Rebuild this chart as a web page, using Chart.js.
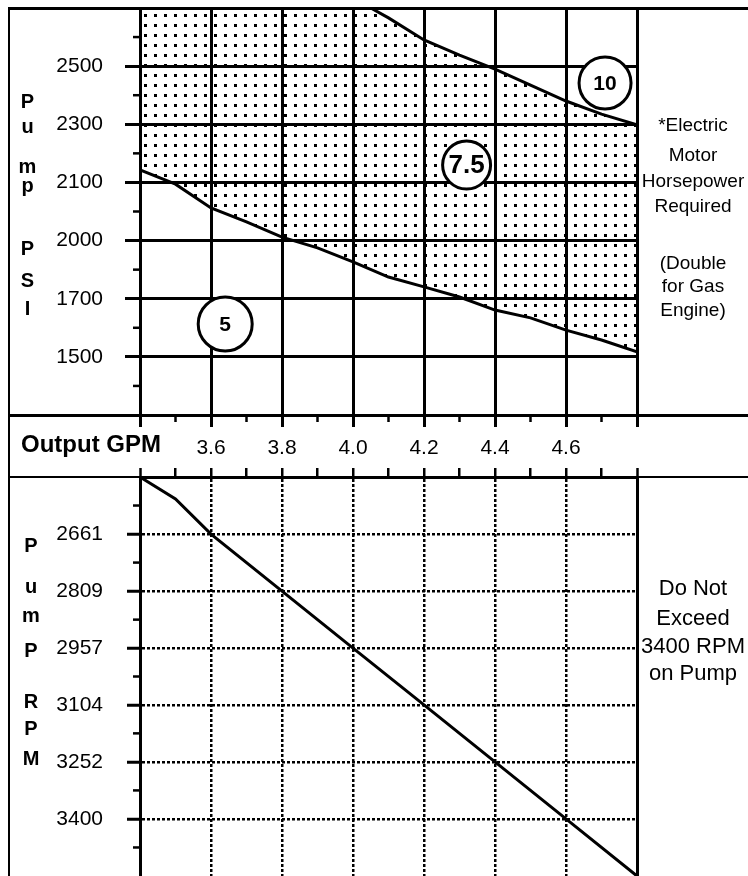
<!DOCTYPE html>
<html><head><meta charset="utf-8">
<script src="https://cdn.jsdelivr.net/npm/chart.js@4.4.0/dist/chart.umd.min.js"></script>
<style>
html,body{margin:0;padding:0;background:#fff;overflow:hidden;}
#wrap{position:relative;width:748px;height:876px;background:#fff;font-family:'Liberation Sans',Arial,Helvetica,sans-serif;color:#000;overflow:hidden;}
canvas{position:absolute;left:0;}
.ln{position:absolute;background:#000;}
.t{position:absolute;width:200px;text-align:center;line-height:1;white-space:nowrap;}
</style></head><body><div id="wrap">
<div class="ln" style="left:8px;top:7px;width:2px;height:869px"></div>
<div class="ln" style="left:8px;top:7px;width:740px;height:3px"></div>
<div class="ln" style="left:8px;top:414px;width:740px;height:3px"></div>
<div class="ln" style="left:8px;top:476px;width:740px;height:2px"></div>
<canvas id="topChart" width="748" height="432" style="top:0"></canvas>
<canvas id="botChart" width="748" height="456" style="top:420px"></canvas>
</div>
<script>
// ---------- data ----------
// Upper panel: pump pressure (PSI) bands of motor horsepower
const gpmLower = [3.4, 3.5, 3.6, 3.7, 3.8, 3.9, 4.0, 4.1, 4.2, 4.3, 4.4, 4.5, 4.6, 4.7, 4.8];
const psiLower = [2143, 2097, 2056, 2032, 2006, 1962, 1890, 1812, 1761, 1709, 1661, 1634, 1592, 1558, 1517];
const gpmUpper = [3.4, 4.05, 4.1, 4.2, 4.3, 4.4, 4.5, 4.6, 4.7, 4.8];
const psiUpper = [2700, 2700, 2666, 2590, 2538, 2490, 2435, 2380, 2335, 2298];
const psiTickLabels = ['1500', '1700', '2000', '2100', '2300', '2500'];
const hpNames = ['5', '7.5', '10'];
const hpGpm = [3.64, 4.32, 4.71];
const hpPsi = [1613, 2160, 2442];
// Shared output GPM axis
const gpmMin = 3.4, gpmMax = 4.8;
const gpmTickLabels = ['3.6', '3.8', '4.0', '4.2', '4.4', '4.6'];
// Lower panel: pump RPM
const rpmTickLabels = ['2661', '2809', '2957', '3104', '3252', '3400'];
const rpmAxisMin = 2513, rpmAxisMax = 3548;
const gpmRpm = [3.4, 3.5, 3.6, 3.8, 4.0, 4.2, 4.4, 4.6, 4.8];
const rpm = [2513, 2570, 2661, 2809, 2957, 3104, 3252, 3400, 3548];
// Texts
const psiTitle = ['P', 'u', 'm', 'p', 'P', 'S', 'I'];
const rpmTitle = ['P', 'u', 'm', 'P', 'R', 'P', 'M'];
const noteTop = ['*Electric', 'Motor', 'Horsepower', 'Required', '(Double', 'for Gas', 'Engine)'];
const noteBottom = ['Do Not', 'Exceed', '3400 RPM', 'on Pump'];

// ---------- helpers ----------
const FONT = "'Liberation Sans', Arial, Helvetica, sans-serif";
Chart.defaults.font.family = FONT;
Chart.defaults.color = '#000';
const psiTickValues = psiTickLabels.map(Number);
function psiPos(v) { // evenly spaced PSI gridlines at positions 1..6
  const t = psiTickValues, n = t.length;
  if (v <= t[0]) return 1 - (t[0] - v) / (t[1] - t[0]);
  if (v >= t[n - 1]) return n + (v - t[n - 1]) / (t[n - 1] - t[n - 2]);
  for (let i = 0; i < n - 1; i++) if (v <= t[i + 1]) return 1 + i + (v - t[i]) / (t[i + 1] - t[i]);
}
function stepTicks(min, max, step) {
  const out = []; const n = Math.round((max - min) / step);
  for (let i = 0; i <= n; i++) out.push({ value: Math.round((min + i * step) * 1000) / 1000 });
  return out;
}
function fixSize(prop, size) {
  return s => { s[prop] = size; s.paddingTop = 0; s.paddingBottom = 0; s.paddingLeft = 0; s.paddingRight = 0; };
}
const near = (a, b) => Math.abs(a - b) < 1e-6;
const tickVal = c => (c.tick ? c.tick.value : null);
const isEdge = c => { const v = tickVal(c); return v !== null && (near(v, gpmMin) || near(v, gpmMax)); };
const isMajorGpm = c => { const v = tickVal(c); return v !== null && Math.round(v * 10) % 2 === 0; };

function minorTicks(list) {
  return { id: 'minorTicks', afterDraw(chart) {
    const ctx = chart.ctx; ctx.save(); ctx.strokeStyle = '#000'; ctx.lineWidth = 2.5;
    list.forEach(({ axis, len }) => {
      const s = chart.scales[axis]; const vals = s.ticks.map(t => t.value);
      const lo = Math.min(s.min, s.max), hi = Math.max(s.min, s.max);
      const mids = [];
      for (let i = 0; i < vals.length - 1; i++) mids.push((vals[i] + vals[i + 1]) / 2);
      mids.unshift(vals[0] - (vals[1] - vals[0]) / 2);
      mids.push(vals[vals.length - 1] + (vals[vals.length - 1] - vals[vals.length - 2]) / 2);
      mids.filter(v => v > lo + 1e-9 && v < hi - 1e-9).forEach(v => {
        const p = s.getPixelForValue(v); ctx.beginPath();
        if (s.isHorizontal()) {
          if (s.position === 'top') { ctx.moveTo(p, s.bottom); ctx.lineTo(p, s.bottom - len); }
          else { ctx.moveTo(p, s.top); ctx.lineTo(p, s.top + len); }
        } else { ctx.moveTo(s.right, p); ctx.lineTo(s.right - len, p); }
        ctx.stroke();
      });
    });
    ctx.restore();
  } };
}

const hpLabelPlugin = { id: 'hpLabels', afterDatasetsDraw(chart) {
  const meta = chart.getDatasetMeta(0); const ctx = chart.ctx; const sizes = [21, 26, 21];
  ctx.save(); ctx.fillStyle = '#000'; ctx.textAlign = 'center'; ctx.textBaseline = 'middle';
  meta.data.forEach((pt, i) => { ctx.font = 'bold ' + sizes[i] + 'px ' + FONT; ctx.fillText(hpNames[i], pt.x, pt.y + 1); });
  ctx.restore();
} };

// ---------- top chart ----------
const topCanvas = document.getElementById('topChart');
const tctx = topCanvas.getContext('2d');
const dotCanvas = document.createElement('canvas'); dotCanvas.width = 10; dotCanvas.height = 10;
const dg = dotCanvas.getContext('2d'); dg.fillStyle = '#000'; dg.fillRect(4, 4, 3, 3);
const dotPattern = tctx.createPattern(dotCanvas, 'repeat');

new Chart(topCanvas, {
  type: 'line',
  data: { datasets: [
    { data: hpGpm.map((x, i) => ({ x, y: psiPos(hpPsi[i]) })), showLine: false, order: 0,
      pointRadius: [27, 24, 26], pointBackgroundColor: '#fff', pointBorderColor: '#000', pointBorderWidth: 3 },
    { data: gpmUpper.map((x, i) => ({ x, y: psiPos(psiUpper[i]) })), order: 1,
      borderColor: '#000', borderWidth: 3, pointRadius: 0, fill: false, tension: 0 },
    { data: gpmLower.map((x, i) => ({ x, y: psiPos(psiLower[i]) })), order: 2,
      borderColor: '#000', borderWidth: 3, pointRadius: 0, tension: 0,
      backgroundColor: dotPattern, fill: { target: 1, above: dotPattern, below: dotPattern } }
  ] },
  options: {
    responsive: false, animation: false, devicePixelRatio: 1,
    layout: { autoPadding: false, padding: { left: 0, right: 111, top: 8, bottom: 0 } },
    plugins: { legend: { display: false }, tooltip: { enabled: false } },
    scales: {
      x: { type: 'linear', min: gpmMin, max: gpmMax,
        afterBuildTicks: s => { s.ticks = stepTicks(gpmMin, gpmMax, 0.2); },
        afterFit: fixSize('height', 17),
        ticks: { display: false },
        grid: { color: '#000', lineWidth: 3, tickLength: 12, tickWidth: 3, tickColor: '#000' },
        border: { display: true, color: '#000', width: 3 } },
      y: { type: 'linear', min: 0, max: 7,
        afterBuildTicks: s => { s.ticks = stepTicks(0, 7, 1); },
        afterFit: fixSize('width', 140),
        ticks: { autoSkip: false, padding: 22, font: { size: 21 }, color: '#000',
          callback: v => psiTickLabels[Math.round(v) - 1] || '' },
        grid: { color: '#000', lineWidth: 3, tickLength: 15, tickWidth: 3, tickColor: '#000' },
        border: { display: true, color: '#000', width: 3 } }
    }
  },
  plugins: [minorTicks([{ axis: 'x', len: 7 }, { axis: 'y', len: 7 }]), hpLabelPlugin]
});

// ---------- bottom chart ----------
new Chart(document.getElementById('botChart'), {
  type: 'line',
  data: { datasets: [
    { data: gpmRpm.map((x, i) => ({ x, y: rpm[i] })), borderColor: '#000', borderWidth: 3, pointRadius: 0, tension: 0, fill: false }
  ] },
  options: {
    responsive: false, animation: false, devicePixelRatio: 1,
    layout: { autoPadding: false, padding: { left: 0, right: 111, top: 0, bottom: 0 } },
    plugins: { legend: { display: false }, tooltip: { enabled: false } },
    scales: {
      x: { type: 'linear', position: 'top', min: gpmMin, max: gpmMax,
        afterBuildTicks: s => { s.ticks = stepTicks(gpmMin, gpmMax, 0.1); },
        afterFit: fixSize('height', 57),
        ticks: { autoSkip: false, maxRotation: 0, minRotation: 0, padding: 7, font: { size: 21 }, color: '#000',
          callback: v => { const l = gpmTickLabels.find(t => near(+t, v)); return l || ''; } },
        grid: { color: c => isMajorGpm(c) ? '#000' : 'rgba(0,0,0,0)', lineWidth: c => isEdge(c) ? 3 : 2.5,
          tickLength: 9, tickWidth: 2.5, tickColor: '#000' },
        border: { display: true, color: '#000', width: 3, dash: c => (c.tick && !isEdge(c)) ? [3, 2] : [] } },
      y: { type: 'linear', reverse: true, min: rpmAxisMin, max: rpmAxisMax,
        afterBuildTicks: s => { s.ticks = rpmTickLabels.map(l => ({ value: +l })); },
        afterFit: fixSize('width', 140),
        ticks: { autoSkip: false, padding: 24, font: { size: 21 }, color: '#000',
          callback: v => rpmTickLabels.find(l => +l === v) || '' },
        grid: { color: '#000', lineWidth: 2.5, tickLength: 13, tickWidth: 3, tickColor: '#000' },
        border: { display: true, color: '#000', width: 3, dash: c => c.tick ? [3, 2] : [] } }
    }
  },
  plugins: [minorTicks([{ axis: 'y', len: 7 }])]
});

// ---------- text ----------
const wrap = document.getElementById('wrap');
function put(txt, x, base, size, bold, align) {
  const d = document.createElement('div'); d.className = 't'; d.textContent = txt;
  d.style.fontSize = size + 'px'; d.style.fontWeight = bold ? 'bold' : 'normal';
  d.style.top = (base - 0.8465 * size) + 'px';
  if (align === 'left') { d.style.left = x + 'px'; d.style.textAlign = 'left'; d.style.width = 'auto'; }
  else d.style.left = (x - 100) + 'px';
  wrap.appendChild(d);
}
[108, 133, 173, 192, 255, 287, 315].forEach((b, i) => put(psiTitle[i], 27.5, b, 20, true));
[552, 593, 622, 657, 708, 735, 765].forEach((b, i) => put(rpmTitle[i], 31, b, 20, true));
put('Output GPM', 21, 452, 24, true, 'left');
[131, 161, 187, 212, 269, 292, 316].forEach((b, i) => put(noteTop[i], 693, b, 19, false));
[596, 626, 654, 681].forEach((b, i) => put(noteBottom[i], 693, b, 22, false));
</script>
</body></html>
